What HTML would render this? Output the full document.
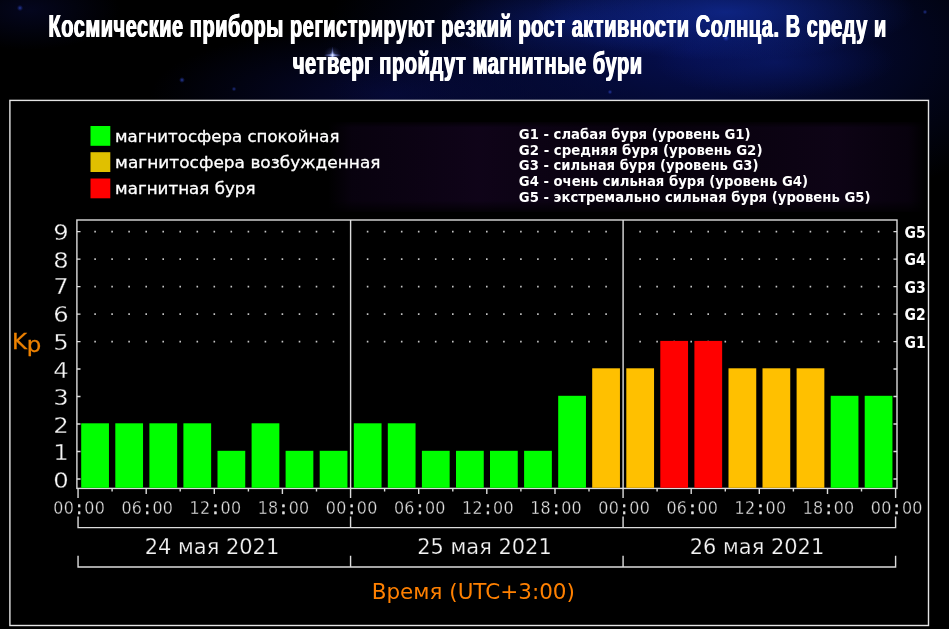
<!DOCTYPE html>
<html lang="ru">
<head>
<meta charset="utf-8">
<title>Магнитные бури</title>
<style>
html,body{margin:0;padding:0;background:#000;}
body{width:949px;height:629px;overflow:hidden;position:relative;
 background:
  radial-gradient(ellipse 190px 48px at 725px 12px, rgba(20,52,175,0.6), rgba(20,52,175,0) 100%),
  radial-gradient(ellipse 130px 40px at 570px 22px, rgba(14,36,140,0.45), rgba(14,36,140,0) 100%),
  radial-gradient(ellipse 120px 36px at 775px 62px, rgba(14,36,140,0.4), rgba(14,36,140,0) 100%),
  radial-gradient(ellipse 370px 170px at 690px 50px, rgba(6,16,88,0.9), rgba(6,16,88,0) 100%),
  radial-gradient(ellipse 240px 70px at 390px 95px, rgba(8,12,70,0.7), rgba(8,12,70,0) 100%),
  radial-gradient(ellipse 90px 40px at 30px 10px, rgba(8,12,60,0.5), rgba(8,12,60,0) 100%),
  #000;}
.chart{position:absolute;left:0;top:0;}
h1{position:absolute;z-index:2;left:0;top:0;width:949px;margin:0;font:bold 30.6px "Liberation Sans",sans-serif;color:#fff;text-align:center;line-height:39px;white-space:nowrap;letter-spacing:0.85px;text-shadow:0.8px 0 0 #fff,-0.8px 0 0 #fff;}
h1 span{display:block;position:absolute;left:50%;width:1400px;margin-left:-700px;transform-origin:50% 50%;}
h1 .l1{top:6.5px;transform:translateX(-7.3px) scaleX(0.652);}
h1 .l2{top:44.2px;transform:translateX(-7.2px) scaleX(0.657);}
text{font-family:"DejaVu Sans","Liberation Sans",sans-serif;fill:#fff;}
.leg{font-size:16.5px;stroke:#fff;stroke-width:0.3px;}
.gl{font-size:13.25px;font-weight:bold;}
.yl{font-size:21.5px;fill:#f6f6f6;stroke:#000;stroke-width:0.3px;}
.gr{font-size:15.2px;font-weight:bold;}
.kp{font-size:21px;fill:#ee8200;stroke:#ee8200;stroke-width:0.3px;}
.tl{font-size:18.1px;fill:#e0e0e0;stroke:#000;stroke-width:0.35px;}
.cl{stroke:#e0e0e0;stroke-width:0.7px;}
.dt{font-size:21.5px;fill:#f4f4f4;stroke:#000;stroke-width:0.25px;}
.tm{font-size:21.5px;fill:#ff8000;}
</style>
</head>
<body>
<h1><span class="l1">Космические приборы регистрируют резкий рост активности Солнца. В среду и</span><span class="l2">четверг пройдут магнитные бури</span></h1>
<svg class="chart" width="949" height="629" viewBox="0 0 949 629">
<g fill="url(#st)"><circle cx="20" cy="8" r="3.2" opacity="0.8"/><circle cx="182" cy="80" r="3" opacity="0.85"/><circle cx="234" cy="89" r="2.4" opacity="0.7"/><circle cx="726" cy="38" r="3.4"/><circle cx="925" cy="12" r="2.4" opacity="0.7"/><circle cx="610" cy="92" r="2.4" opacity="0.8"/></g>
<g><ellipse cx="332.5" cy="55.2" rx="9" ry="1.6" fill="url(#sg)"/><ellipse cx="332.5" cy="55.2" rx="1.5" ry="9" fill="url(#sg)"/><circle cx="332.5" cy="55.2" r="3.4" fill="url(#sg)"/><circle cx="332.5" cy="55.2" r="9" fill="url(#sg)" opacity="0.35"/></g>
<rect x="9.9" y="100.4" width="918.6" height="525.1" fill="#000" stroke="#e4e4e4" stroke-width="1.4"/>
<defs><linearGradient id="neb" x1="0" y1="0" x2="1" y2="0"><stop offset="0" stop-color="#1c0630" stop-opacity="0"/><stop offset="0.04" stop-color="#1c0630" stop-opacity="0.3"/><stop offset="0.25" stop-color="#2a0a44" stop-opacity="0.36"/><stop offset="0.55" stop-color="#180528" stop-opacity="0.3"/><stop offset="0.85" stop-color="#260a3c" stop-opacity="0.36"/><stop offset="0.97" stop-color="#1c0630" stop-opacity="0.28"/><stop offset="1" stop-color="#1c0630" stop-opacity="0"/></linearGradient><linearGradient id="nebm" x1="0" y1="0" x2="0" y2="1"><stop offset="0" stop-color="#fff" stop-opacity="0"/><stop offset="0.08" stop-color="#fff" stop-opacity="1"/><stop offset="0.85" stop-color="#fff" stop-opacity="1"/><stop offset="1" stop-color="#fff" stop-opacity="0"/></linearGradient><mask id="nm"><rect x="325" y="120" width="605" height="95" fill="url(#nebm)"/></mask><radialGradient id="st" cx="0.5" cy="0.5" r="0.5"><stop offset="0" stop-color="#3450d0" stop-opacity="0.9"/><stop offset="1" stop-color="#2030a0" stop-opacity="0"/></radialGradient><radialGradient id="sg" cx="0.5" cy="0.5" r="0.5"><stop offset="0" stop-color="#e8f0ff" stop-opacity="1"/><stop offset="0.35" stop-color="#a8b8ff" stop-opacity="0.6"/><stop offset="1" stop-color="#4050c0" stop-opacity="0"/></radialGradient></defs>
<rect x="328" y="122" width="598" height="90" fill="url(#neb)" mask="url(#nm)"/>
<rect x="90.5" y="126.0" width="19.8" height="19.8" fill="#00ff00"/>
<text x="115.1" y="141.6" class="leg" textLength="224.4" lengthAdjust="spacingAndGlyphs">магнитосфера спокойная</text>
<rect x="90.5" y="152.2" width="19.8" height="19.8" fill="#e0c000"/>
<text x="115.1" y="167.8" class="leg" textLength="265.4" lengthAdjust="spacingAndGlyphs">магнитосфера возбужденная</text>
<rect x="90.5" y="178.5" width="19.8" height="19.8" fill="#ff0000"/>
<text x="115.1" y="194.1" class="leg" textLength="140.4" lengthAdjust="spacingAndGlyphs">магнитная буря</text>
<text x="518.8" y="138.8" class="gl" textLength="231.7" lengthAdjust="spacingAndGlyphs">G1 - слабая буря (уровень G1)</text>
<text x="518.8" y="154.6" class="gl" textLength="243.7" lengthAdjust="spacingAndGlyphs">G2 - средняя буря (уровень G2)</text>
<text x="518.8" y="170.3" class="gl" textLength="239.7" lengthAdjust="spacingAndGlyphs">G3 - сильная буря (уровень G3)</text>
<text x="518.8" y="186.1" class="gl" textLength="289.2" lengthAdjust="spacingAndGlyphs">G4 - очень сильная буря (уровень G4)</text>
<text x="518.8" y="201.8" class="gl" textLength="351.7" lengthAdjust="spacingAndGlyphs">G5 - экстремально сильная буря (уровень G5)</text>
<rect x="76.9" y="220.0" width="820.1" height="268.4" fill="#000" stroke="#dcdcdc" stroke-width="1.4"/>
<path d="M94.3 340.8h1.6v1.6h-1.6zM111.3 340.8h1.6v1.6h-1.6zM128.3 340.8h1.6v1.6h-1.6zM145.4 340.8h1.6v1.6h-1.6zM162.4 340.8h1.6v1.6h-1.6zM179.4 340.8h1.6v1.6h-1.6zM196.5 340.8h1.6v1.6h-1.6zM213.5 340.8h1.6v1.6h-1.6zM230.5 340.8h1.6v1.6h-1.6zM247.6 340.8h1.6v1.6h-1.6zM264.6 340.8h1.6v1.6h-1.6zM281.6 340.8h1.6v1.6h-1.6zM298.7 340.8h1.6v1.6h-1.6zM315.7 340.8h1.6v1.6h-1.6zM332.7 340.8h1.6v1.6h-1.6zM366.8 340.8h1.6v1.6h-1.6zM383.8 340.8h1.6v1.6h-1.6zM400.9 340.8h1.6v1.6h-1.6zM417.9 340.8h1.6v1.6h-1.6zM434.9 340.8h1.6v1.6h-1.6zM452.0 340.8h1.6v1.6h-1.6zM469.0 340.8h1.6v1.6h-1.6zM486.0 340.8h1.6v1.6h-1.6zM503.1 340.8h1.6v1.6h-1.6zM520.1 340.8h1.6v1.6h-1.6zM537.1 340.8h1.6v1.6h-1.6zM554.2 340.8h1.6v1.6h-1.6zM571.2 340.8h1.6v1.6h-1.6zM588.2 340.8h1.6v1.6h-1.6zM605.3 340.8h1.6v1.6h-1.6zM639.3 340.8h1.6v1.6h-1.6zM656.3 340.8h1.6v1.6h-1.6zM673.4 340.8h1.6v1.6h-1.6zM690.4 340.8h1.6v1.6h-1.6zM707.4 340.8h1.6v1.6h-1.6zM724.5 340.8h1.6v1.6h-1.6zM741.5 340.8h1.6v1.6h-1.6zM758.5 340.8h1.6v1.6h-1.6zM775.6 340.8h1.6v1.6h-1.6zM792.6 340.8h1.6v1.6h-1.6zM809.6 340.8h1.6v1.6h-1.6zM826.7 340.8h1.6v1.6h-1.6zM843.7 340.8h1.6v1.6h-1.6zM860.7 340.8h1.6v1.6h-1.6zM877.8 340.8h1.6v1.6h-1.6zM94.3 313.3h1.6v1.6h-1.6zM111.3 313.3h1.6v1.6h-1.6zM128.3 313.3h1.6v1.6h-1.6zM145.4 313.3h1.6v1.6h-1.6zM162.4 313.3h1.6v1.6h-1.6zM179.4 313.3h1.6v1.6h-1.6zM196.5 313.3h1.6v1.6h-1.6zM213.5 313.3h1.6v1.6h-1.6zM230.5 313.3h1.6v1.6h-1.6zM247.6 313.3h1.6v1.6h-1.6zM264.6 313.3h1.6v1.6h-1.6zM281.6 313.3h1.6v1.6h-1.6zM298.7 313.3h1.6v1.6h-1.6zM315.7 313.3h1.6v1.6h-1.6zM332.7 313.3h1.6v1.6h-1.6zM366.8 313.3h1.6v1.6h-1.6zM383.8 313.3h1.6v1.6h-1.6zM400.9 313.3h1.6v1.6h-1.6zM417.9 313.3h1.6v1.6h-1.6zM434.9 313.3h1.6v1.6h-1.6zM452.0 313.3h1.6v1.6h-1.6zM469.0 313.3h1.6v1.6h-1.6zM486.0 313.3h1.6v1.6h-1.6zM503.1 313.3h1.6v1.6h-1.6zM520.1 313.3h1.6v1.6h-1.6zM537.1 313.3h1.6v1.6h-1.6zM554.2 313.3h1.6v1.6h-1.6zM571.2 313.3h1.6v1.6h-1.6zM588.2 313.3h1.6v1.6h-1.6zM605.3 313.3h1.6v1.6h-1.6zM639.3 313.3h1.6v1.6h-1.6zM656.3 313.3h1.6v1.6h-1.6zM673.4 313.3h1.6v1.6h-1.6zM690.4 313.3h1.6v1.6h-1.6zM707.4 313.3h1.6v1.6h-1.6zM724.5 313.3h1.6v1.6h-1.6zM741.5 313.3h1.6v1.6h-1.6zM758.5 313.3h1.6v1.6h-1.6zM775.6 313.3h1.6v1.6h-1.6zM792.6 313.3h1.6v1.6h-1.6zM809.6 313.3h1.6v1.6h-1.6zM826.7 313.3h1.6v1.6h-1.6zM843.7 313.3h1.6v1.6h-1.6zM860.7 313.3h1.6v1.6h-1.6zM877.8 313.3h1.6v1.6h-1.6zM94.3 285.8h1.6v1.6h-1.6zM111.3 285.8h1.6v1.6h-1.6zM128.3 285.8h1.6v1.6h-1.6zM145.4 285.8h1.6v1.6h-1.6zM162.4 285.8h1.6v1.6h-1.6zM179.4 285.8h1.6v1.6h-1.6zM196.5 285.8h1.6v1.6h-1.6zM213.5 285.8h1.6v1.6h-1.6zM230.5 285.8h1.6v1.6h-1.6zM247.6 285.8h1.6v1.6h-1.6zM264.6 285.8h1.6v1.6h-1.6zM281.6 285.8h1.6v1.6h-1.6zM298.7 285.8h1.6v1.6h-1.6zM315.7 285.8h1.6v1.6h-1.6zM332.7 285.8h1.6v1.6h-1.6zM366.8 285.8h1.6v1.6h-1.6zM383.8 285.8h1.6v1.6h-1.6zM400.9 285.8h1.6v1.6h-1.6zM417.9 285.8h1.6v1.6h-1.6zM434.9 285.8h1.6v1.6h-1.6zM452.0 285.8h1.6v1.6h-1.6zM469.0 285.8h1.6v1.6h-1.6zM486.0 285.8h1.6v1.6h-1.6zM503.1 285.8h1.6v1.6h-1.6zM520.1 285.8h1.6v1.6h-1.6zM537.1 285.8h1.6v1.6h-1.6zM554.2 285.8h1.6v1.6h-1.6zM571.2 285.8h1.6v1.6h-1.6zM588.2 285.8h1.6v1.6h-1.6zM605.3 285.8h1.6v1.6h-1.6zM639.3 285.8h1.6v1.6h-1.6zM656.3 285.8h1.6v1.6h-1.6zM673.4 285.8h1.6v1.6h-1.6zM690.4 285.8h1.6v1.6h-1.6zM707.4 285.8h1.6v1.6h-1.6zM724.5 285.8h1.6v1.6h-1.6zM741.5 285.8h1.6v1.6h-1.6zM758.5 285.8h1.6v1.6h-1.6zM775.6 285.8h1.6v1.6h-1.6zM792.6 285.8h1.6v1.6h-1.6zM809.6 285.8h1.6v1.6h-1.6zM826.7 285.8h1.6v1.6h-1.6zM843.7 285.8h1.6v1.6h-1.6zM860.7 285.8h1.6v1.6h-1.6zM877.8 285.8h1.6v1.6h-1.6zM94.3 258.3h1.6v1.6h-1.6zM111.3 258.3h1.6v1.6h-1.6zM128.3 258.3h1.6v1.6h-1.6zM145.4 258.3h1.6v1.6h-1.6zM162.4 258.3h1.6v1.6h-1.6zM179.4 258.3h1.6v1.6h-1.6zM196.5 258.3h1.6v1.6h-1.6zM213.5 258.3h1.6v1.6h-1.6zM230.5 258.3h1.6v1.6h-1.6zM247.6 258.3h1.6v1.6h-1.6zM264.6 258.3h1.6v1.6h-1.6zM281.6 258.3h1.6v1.6h-1.6zM298.7 258.3h1.6v1.6h-1.6zM315.7 258.3h1.6v1.6h-1.6zM332.7 258.3h1.6v1.6h-1.6zM366.8 258.3h1.6v1.6h-1.6zM383.8 258.3h1.6v1.6h-1.6zM400.9 258.3h1.6v1.6h-1.6zM417.9 258.3h1.6v1.6h-1.6zM434.9 258.3h1.6v1.6h-1.6zM452.0 258.3h1.6v1.6h-1.6zM469.0 258.3h1.6v1.6h-1.6zM486.0 258.3h1.6v1.6h-1.6zM503.1 258.3h1.6v1.6h-1.6zM520.1 258.3h1.6v1.6h-1.6zM537.1 258.3h1.6v1.6h-1.6zM554.2 258.3h1.6v1.6h-1.6zM571.2 258.3h1.6v1.6h-1.6zM588.2 258.3h1.6v1.6h-1.6zM605.3 258.3h1.6v1.6h-1.6zM639.3 258.3h1.6v1.6h-1.6zM656.3 258.3h1.6v1.6h-1.6zM673.4 258.3h1.6v1.6h-1.6zM690.4 258.3h1.6v1.6h-1.6zM707.4 258.3h1.6v1.6h-1.6zM724.5 258.3h1.6v1.6h-1.6zM741.5 258.3h1.6v1.6h-1.6zM758.5 258.3h1.6v1.6h-1.6zM775.6 258.3h1.6v1.6h-1.6zM792.6 258.3h1.6v1.6h-1.6zM809.6 258.3h1.6v1.6h-1.6zM826.7 258.3h1.6v1.6h-1.6zM843.7 258.3h1.6v1.6h-1.6zM860.7 258.3h1.6v1.6h-1.6zM877.8 258.3h1.6v1.6h-1.6zM94.3 230.8h1.6v1.6h-1.6zM111.3 230.8h1.6v1.6h-1.6zM128.3 230.8h1.6v1.6h-1.6zM145.4 230.8h1.6v1.6h-1.6zM162.4 230.8h1.6v1.6h-1.6zM179.4 230.8h1.6v1.6h-1.6zM196.5 230.8h1.6v1.6h-1.6zM213.5 230.8h1.6v1.6h-1.6zM230.5 230.8h1.6v1.6h-1.6zM247.6 230.8h1.6v1.6h-1.6zM264.6 230.8h1.6v1.6h-1.6zM281.6 230.8h1.6v1.6h-1.6zM298.7 230.8h1.6v1.6h-1.6zM315.7 230.8h1.6v1.6h-1.6zM332.7 230.8h1.6v1.6h-1.6zM366.8 230.8h1.6v1.6h-1.6zM383.8 230.8h1.6v1.6h-1.6zM400.9 230.8h1.6v1.6h-1.6zM417.9 230.8h1.6v1.6h-1.6zM434.9 230.8h1.6v1.6h-1.6zM452.0 230.8h1.6v1.6h-1.6zM469.0 230.8h1.6v1.6h-1.6zM486.0 230.8h1.6v1.6h-1.6zM503.1 230.8h1.6v1.6h-1.6zM520.1 230.8h1.6v1.6h-1.6zM537.1 230.8h1.6v1.6h-1.6zM554.2 230.8h1.6v1.6h-1.6zM571.2 230.8h1.6v1.6h-1.6zM588.2 230.8h1.6v1.6h-1.6zM605.3 230.8h1.6v1.6h-1.6zM639.3 230.8h1.6v1.6h-1.6zM656.3 230.8h1.6v1.6h-1.6zM673.4 230.8h1.6v1.6h-1.6zM690.4 230.8h1.6v1.6h-1.6zM707.4 230.8h1.6v1.6h-1.6zM724.5 230.8h1.6v1.6h-1.6zM741.5 230.8h1.6v1.6h-1.6zM758.5 230.8h1.6v1.6h-1.6zM775.6 230.8h1.6v1.6h-1.6zM792.6 230.8h1.6v1.6h-1.6zM809.6 230.8h1.6v1.6h-1.6zM826.7 230.8h1.6v1.6h-1.6zM843.7 230.8h1.6v1.6h-1.6zM860.7 230.8h1.6v1.6h-1.6zM877.8 230.8h1.6v1.6h-1.6z" fill="#c4c4c4"/>
<rect x="81.2" y="423.3" width="27.75" height="64.5" fill="#00ff00"/>
<rect x="115.3" y="423.3" width="27.75" height="64.5" fill="#00ff00"/>
<rect x="149.4" y="423.3" width="27.75" height="64.5" fill="#00ff00"/>
<rect x="183.4" y="423.3" width="27.75" height="64.5" fill="#00ff00"/>
<rect x="217.5" y="450.8" width="27.75" height="37.0" fill="#00ff00"/>
<rect x="251.6" y="423.3" width="27.75" height="64.5" fill="#00ff00"/>
<rect x="285.6" y="450.8" width="27.75" height="37.0" fill="#00ff00"/>
<rect x="319.7" y="450.8" width="27.75" height="37.0" fill="#00ff00"/>
<rect x="353.8" y="423.3" width="27.75" height="64.5" fill="#00ff00"/>
<rect x="387.8" y="423.3" width="27.75" height="64.5" fill="#00ff00"/>
<rect x="421.9" y="450.8" width="27.75" height="37.0" fill="#00ff00"/>
<rect x="456.0" y="450.8" width="27.75" height="37.0" fill="#00ff00"/>
<rect x="490.0" y="450.8" width="27.75" height="37.0" fill="#00ff00"/>
<rect x="524.1" y="450.8" width="27.75" height="37.0" fill="#00ff00"/>
<rect x="558.2" y="395.8" width="27.75" height="92.0" fill="#00ff00"/>
<rect x="592.2" y="368.3" width="27.75" height="119.5" fill="#ffc000"/>
<rect x="626.3" y="368.3" width="27.75" height="119.5" fill="#ffc000"/>
<rect x="660.3" y="340.9" width="27.75" height="146.9" fill="#ff0000"/>
<rect x="694.4" y="340.9" width="27.75" height="146.9" fill="#ff0000"/>
<rect x="728.5" y="368.3" width="27.75" height="119.5" fill="#ffc000"/>
<rect x="762.5" y="368.3" width="27.75" height="119.5" fill="#ffc000"/>
<rect x="796.6" y="368.3" width="27.75" height="119.5" fill="#ffc000"/>
<rect x="830.7" y="395.8" width="27.75" height="92.0" fill="#00ff00"/>
<rect x="864.7" y="395.8" width="27.75" height="92.0" fill="#00ff00"/>
<path d="M350.6 220.0V488.4M623.1 220.0V488.4M76.9 479.0h3.6M897.05 479.0h-3.6M76.9 451.5h3.6M897.05 451.5h-3.6M76.9 424.0h3.6M897.05 424.0h-3.6M76.9 396.5h3.6M897.05 396.5h-3.6M76.9 369.0h3.6M897.05 369.0h-3.6M76.9 341.6h3.6M897.05 341.6h-3.6M76.9 314.1h3.6M897.05 314.1h-3.6M76.9 286.6h3.6M897.05 286.6h-3.6M76.9 259.1h3.6M897.05 259.1h-3.6M76.9 231.6h3.6M897.05 231.6h-3.6M78.05 488.4V498M78.05 516.6V527.6M78.05 555.8V567M112.1 488.4V491.5M146.2 488.4V494M180.2 488.4V491.5M214.3 488.4V494M248.4 488.4V491.5M282.4 488.4V494M316.5 488.4V491.5M350.57 488.4V498M350.57 516.6V527.6M350.57 555.8V567M384.6 488.4V491.5M418.7 488.4V494M452.8 488.4V491.5M486.8 488.4V494M520.9 488.4V491.5M555.0 488.4V494M589.0 488.4V491.5M623.08 488.4V498M623.08 516.6V527.6M623.08 555.8V567M657.1 488.4V491.5M691.2 488.4V494M725.3 488.4V491.5M759.3 488.4V494M793.4 488.4V491.5M827.5 488.4V494M861.5 488.4V491.5M895.60 488.4V498M895.60 516.6V527.6M895.60 555.8V567M77.35 527.6H896.30M77.35 567H896.30" fill="none" stroke="#dcdcdc" stroke-width="1.4"/>
<text transform="translate(61 487.6) scale(1.13 1)" class="yl" text-anchor="middle">0</text>
<text transform="translate(61 460.1) scale(1.13 1)" class="yl" text-anchor="middle">1</text>
<text transform="translate(61 432.6) scale(1.13 1)" class="yl" text-anchor="middle">2</text>
<text transform="translate(61 405.1) scale(1.13 1)" class="yl" text-anchor="middle">3</text>
<text transform="translate(61 377.6) scale(1.13 1)" class="yl" text-anchor="middle">4</text>
<text transform="translate(61 350.2) scale(1.13 1)" class="yl" text-anchor="middle">5</text>
<text transform="translate(61 321.6) scale(1.13 1)" class="yl" text-anchor="middle">6</text>
<text transform="translate(61 294.1) scale(1.13 1)" class="yl" text-anchor="middle">7</text>
<text transform="translate(61 267.7) scale(1.13 1)" class="yl" text-anchor="middle">8</text>
<text transform="translate(61 240.2) scale(1.13 1)" class="yl" text-anchor="middle">9</text>
<text transform="translate(904.6 347.6) scale(0.92 1)" class="gr">G1</text>
<text transform="translate(904.6 320.1) scale(0.92 1)" class="gr">G2</text>
<text transform="translate(904.6 292.6) scale(0.92 1)" class="gr">G3</text>
<text transform="translate(904.6 265.1) scale(0.92 1)" class="gr">G4</text>
<text transform="translate(904.6 237.6) scale(0.92 1)" class="gr">G5</text>
<text x="11.9" y="348.7" class="kp" textLength="29.5" lengthAdjust="spacingAndGlyphs">K<tspan dy="3.6">p</tspan></text>
<text transform="translate(79.15 514) scale(0.88 1)" class="tl" x="-29.4 -17.65 -3.05 5.9 17.65">00<tspan class="cl">:</tspan>00</text>
<text transform="translate(147.28 514) scale(0.88 1)" class="tl" x="-29.4 -17.65 -3.05 5.9 17.65">06<tspan class="cl">:</tspan>00</text>
<text transform="translate(215.41 514) scale(0.88 1)" class="tl" x="-29.4 -17.65 -3.05 5.9 17.65">12<tspan class="cl">:</tspan>00</text>
<text transform="translate(283.54 514) scale(0.88 1)" class="tl" x="-29.4 -17.65 -3.05 5.9 17.65">18<tspan class="cl">:</tspan>00</text>
<text transform="translate(351.67 514) scale(0.88 1)" class="tl" x="-29.4 -17.65 -3.05 5.9 17.65">00<tspan class="cl">:</tspan>00</text>
<text transform="translate(419.80 514) scale(0.88 1)" class="tl" x="-29.4 -17.65 -3.05 5.9 17.65">06<tspan class="cl">:</tspan>00</text>
<text transform="translate(487.93 514) scale(0.88 1)" class="tl" x="-29.4 -17.65 -3.05 5.9 17.65">12<tspan class="cl">:</tspan>00</text>
<text transform="translate(556.05 514) scale(0.88 1)" class="tl" x="-29.4 -17.65 -3.05 5.9 17.65">18<tspan class="cl">:</tspan>00</text>
<text transform="translate(624.18 514) scale(0.88 1)" class="tl" x="-29.4 -17.65 -3.05 5.9 17.65">00<tspan class="cl">:</tspan>00</text>
<text transform="translate(692.31 514) scale(0.88 1)" class="tl" x="-29.4 -17.65 -3.05 5.9 17.65">06<tspan class="cl">:</tspan>00</text>
<text transform="translate(760.44 514) scale(0.88 1)" class="tl" x="-29.4 -17.65 -3.05 5.9 17.65">12<tspan class="cl">:</tspan>00</text>
<text transform="translate(828.57 514) scale(0.88 1)" class="tl" x="-29.4 -17.65 -3.05 5.9 17.65">18<tspan class="cl">:</tspan>00</text>
<text transform="translate(896.70 514) scale(0.88 1)" class="tl" x="-29.4 -17.65 -3.05 5.9 17.65">00<tspan class="cl">:</tspan>00</text>
<text x="212.0" y="553.6" class="dt" text-anchor="middle" textLength="134.6" lengthAdjust="spacingAndGlyphs">24 мая 2021</text>
<text x="484.5" y="553.6" class="dt" text-anchor="middle" textLength="134.6" lengthAdjust="spacingAndGlyphs">25 мая 2021</text>
<text x="757.0" y="553.6" class="dt" text-anchor="middle" textLength="134.6" lengthAdjust="spacingAndGlyphs">26 мая 2021</text>
<text x="473.3" y="599.1" class="tm" text-anchor="middle" textLength="203.2" lengthAdjust="spacingAndGlyphs">Время (UTC+3:00)</text>
</svg>
</body>
</html>
